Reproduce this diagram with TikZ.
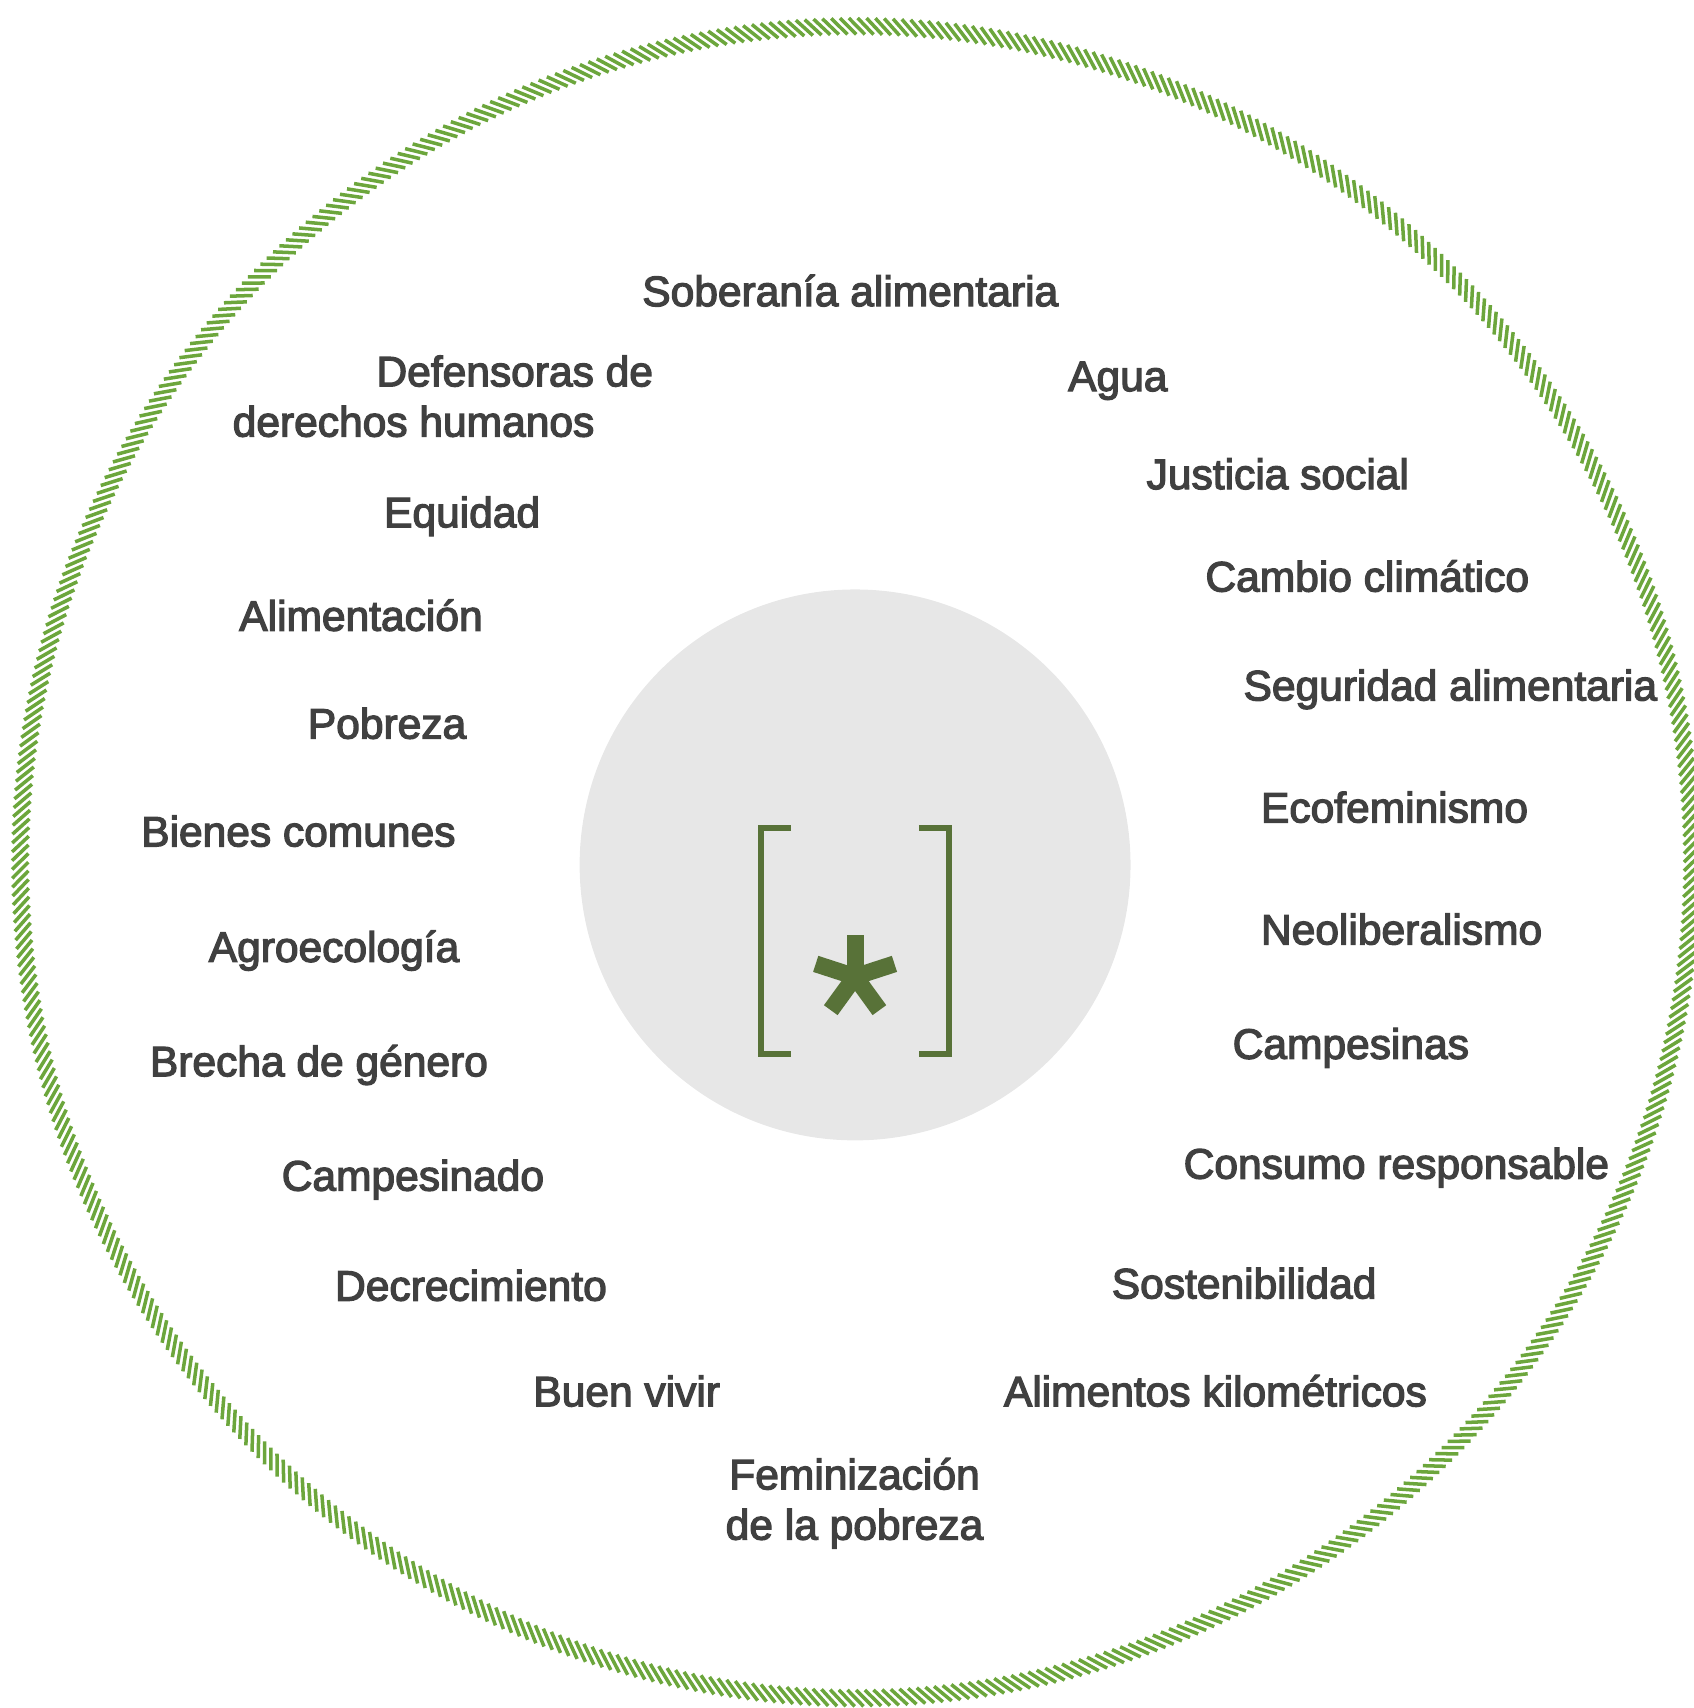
\documentclass[tikz,border=0pt]{standalone}
\usepackage{fontspec}
\setmainfont{Liberation Sans}
\newfontfamily\termfont{Liberation Sans}[FakeBold=3]
\usepackage{xcolor}
\definecolor{ringgreen}{RGB}{108,166,60}
\definecolor{darkgreen}{RGB}{88,114,56}
\definecolor{lightgrey}{RGB}{231,231,231}
\definecolor{textgrey}{RGB}{64,64,64}

\begin{document}
\begin{tikzpicture}[x=0.010894cm, y=-0.010894cm,
  every node/.style={font=\termfont\fontsize{12.1}{14.3}\selectfont, text=textgrey, inner sep=0pt},
  term/.style={anchor=base west}]
  \useasboundingbox (0,0) rectangle (1555,1568);

  % Outer ring
  \begin{scope}[shift={(786,791.5)}]
    \foreach \a in {0,0.6,...,359.5}
      \draw[ringgreen, line width=1pt] (\a:760) -- (\a-1.1:775);
  \end{scope}

  % Centre
  \node[circle, fill=lightgrey, minimum size=5.51cm] (hub) at (785,794) {};
  \draw[darkgreen, line width=1.7pt] (726,760.5) -| (698.5,967.5) -- (726,967.5);
  \draw[darkgreen, line width=1.7pt] (843.6,760.5) -| (871,967.5) -- (843.6,967.5);
  \coordinate (star) at (785,896.6);
  \foreach \a in {-90,-18,-162,126,54}
    \draw[darkgreen, line width=4.8pt] (star) -- ++(\a:38);

  % Top
  \node[term] (sober) at (589,281) {Soberanía alimentaria};
  \node[anchor=west, align=left] (defens) at (213,363.75) {\hspace*{1.438cm}Defensoras de\\derechos humanos};
  \node[term] (agua) at (980,359) {Agua};

  % Left side
  \node[term] (equid) at (352,484) {Equidad};
  \node[term] (alim) at (219,579) {Alimentación};
  \node[term] (pobre) at (282,678) {Pobreza};
  \node[term] (bienes) at (129,777) {Bienes comunes};
  \node[term] (agroec) at (191,883) {Agroecología};
  \node[term] (brecha) at (137,988) {Brecha de género};
  \node[term] (campdo) at (258,1093) {Campesinado};
  \node[term] (decrec) at (307,1194) {Decrecimiento};
  \node[term] (buen) at (489,1291) {Buen vivir};

  % Right side
  \node[term] (just) at (1052,449) {Justicia social};
  \node[term] (clima) at (1106,543) {Cambio climático};
  \node[term] (segur) at (1141,643) {Seguridad alimentaria};
  \node[term] (ecofem) at (1157,755) {Ecofeminismo};
  \node[term] (neolib) at (1157,867) {Neoliberalismo};
  \node[term] (campas) at (1131,972) {Campesinas};
  \node[term] (consumo) at (1086,1082) {Consumo responsable};
  \node[term] (sosten) at (1020,1192) {Sostenibilidad};
  \node[term] (kilom) at (921,1291) {Alimentos kilométricos};

  % Bottom
  \node[align=center] (femin) at (784.5,1380) {Feminización\\de la pobreza};
\end{tikzpicture}
\end{document}
